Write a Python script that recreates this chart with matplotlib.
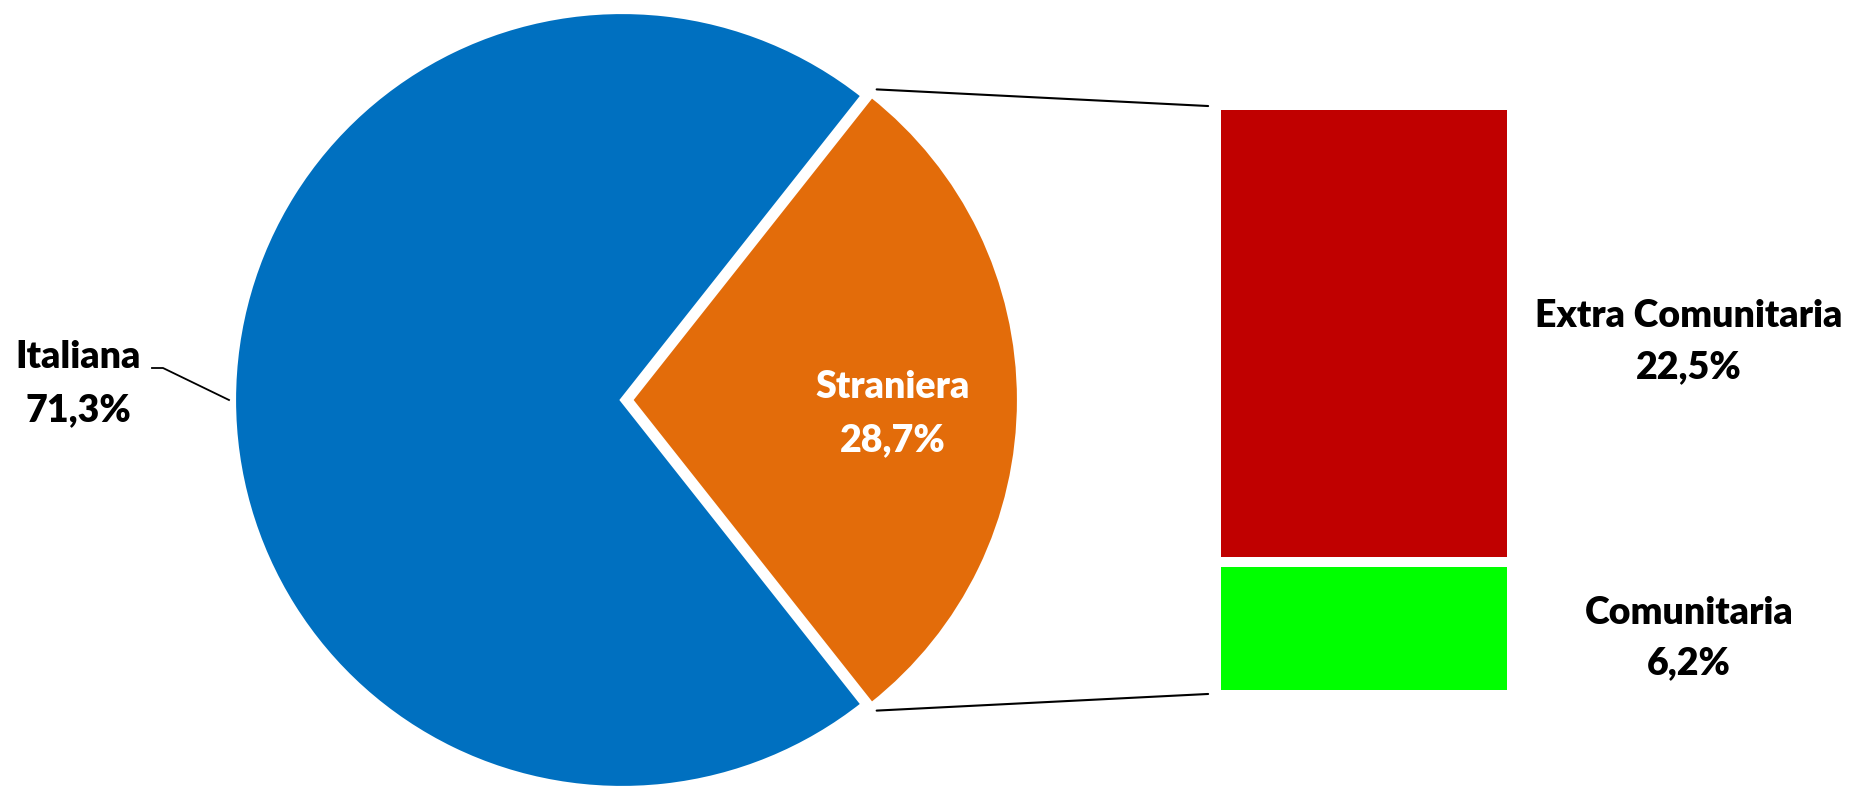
import numpy as np
import matplotlib
matplotlib.use("Agg")
import matplotlib.pyplot as plt
from matplotlib.patches import ConnectionPatch

plt.rcParams['font.family'] = ['Lato', 'DejaVu Sans']

pie_labels = ["Straniera", "Italiana"]
pie_values = [28.7, 71.3]
pie_colors = ["#E36C0A", "#0070C0"]

bar_labels = ["Comunitaria", "Extra Comunitaria"]
bar_values = [6.2, 22.5]
bar_colors = ["#00FF00", "#C00000"]

W, H = 1863, 786
fig = plt.figure(figsize=(W / 100, H / 100), dpi=100)
ax = fig.add_axes([0, 0, 1, 1])

cx, cy, R = 622, 400, 388
expl = 9
half = pie_values[0] / 100 * 360 / 2
wedges, _ = ax.pie(pie_values, colors=pie_colors, startangle=-half,
                   center=(cx, cy), radius=R, explode=[expl, 0],
                   wedgeprops=dict(edgecolor="white", linewidth=3))
ax.set_xlim(0, W)
ax.set_ylim(H, 0)
ax.set_aspect("equal")
ax.axis("off")

fs = 27
fw = "heavy"
def pct(v):
    return f"{v:.1f}%".replace(".", ",")

# Straniera label (inside)
ax.text(893, 387, pie_labels[0], color="white", fontsize=fs, fontweight=fw,
        ha="center", va="center")
ax.text(893, 440, pct(pie_values[0]), color="white",
        fontsize=fs, fontweight=fw, ha="center", va="center")
# Italiana label (outside)
ax.text(78, 357, pie_labels[1], color="black", fontsize=fs, fontweight=fw,
        ha="center", va="center")
ax.text(78, 410, pct(pie_values[1]), color="black",
        fontsize=fs, fontweight=fw, ha="center", va="center")
ax.plot([152, 163, cx - R - 5], [368, 368, cy], color="black", lw=1.3)

# Bar of pie
gap = 0.5
ax2 = fig.add_axes([1221 / W, (H - 690) / H, 286 / W, 580 / H])
total = sum(bar_values) + gap
bottoms = [0, bar_values[0] + gap]
ax2.bar([0, 0], bar_values, bottom=bottoms, color=bar_colors, width=1.0)
ax2.set_xlim(-0.5, 0.5)
ax2.set_ylim(0, total)
ax2.axis("off")

label_x = 1689
ax.text(label_x, 316, bar_labels[1], fontsize=fs, fontweight=fw, ha="center", va="center")
ax.text(label_x, 367, pct(bar_values[1]), fontsize=fs,
        fontweight=fw, ha="center", va="center")
ax.text(label_x, 613, bar_labels[0], fontsize=fs, fontweight=fw, ha="center", va="center")
ax.text(label_x, 663, pct(bar_values[0]), fontsize=fs,
        fontweight=fw, ha="center", va="center")

# connector lines
ex = cx + expl
th = np.deg2rad(half)
top_pt = (ex + (R + 8) * np.cos(th), cy - (R + 8) * np.sin(th))
bot_pt = (ex + (R + 8) * np.cos(th), cy + (R + 8) * np.sin(th))
for p, yb in [(top_pt, total + 0.2), (bot_pt, -0.2)]:
    con = ConnectionPatch(xyA=p, coordsA=ax.transData, xyB=(-0.545, yb),
                          coordsB=ax2.transData, color="black", lw=1.5)
    fig.add_artist(con)

fig.savefig("out.png", dpi=100, facecolor="white")
